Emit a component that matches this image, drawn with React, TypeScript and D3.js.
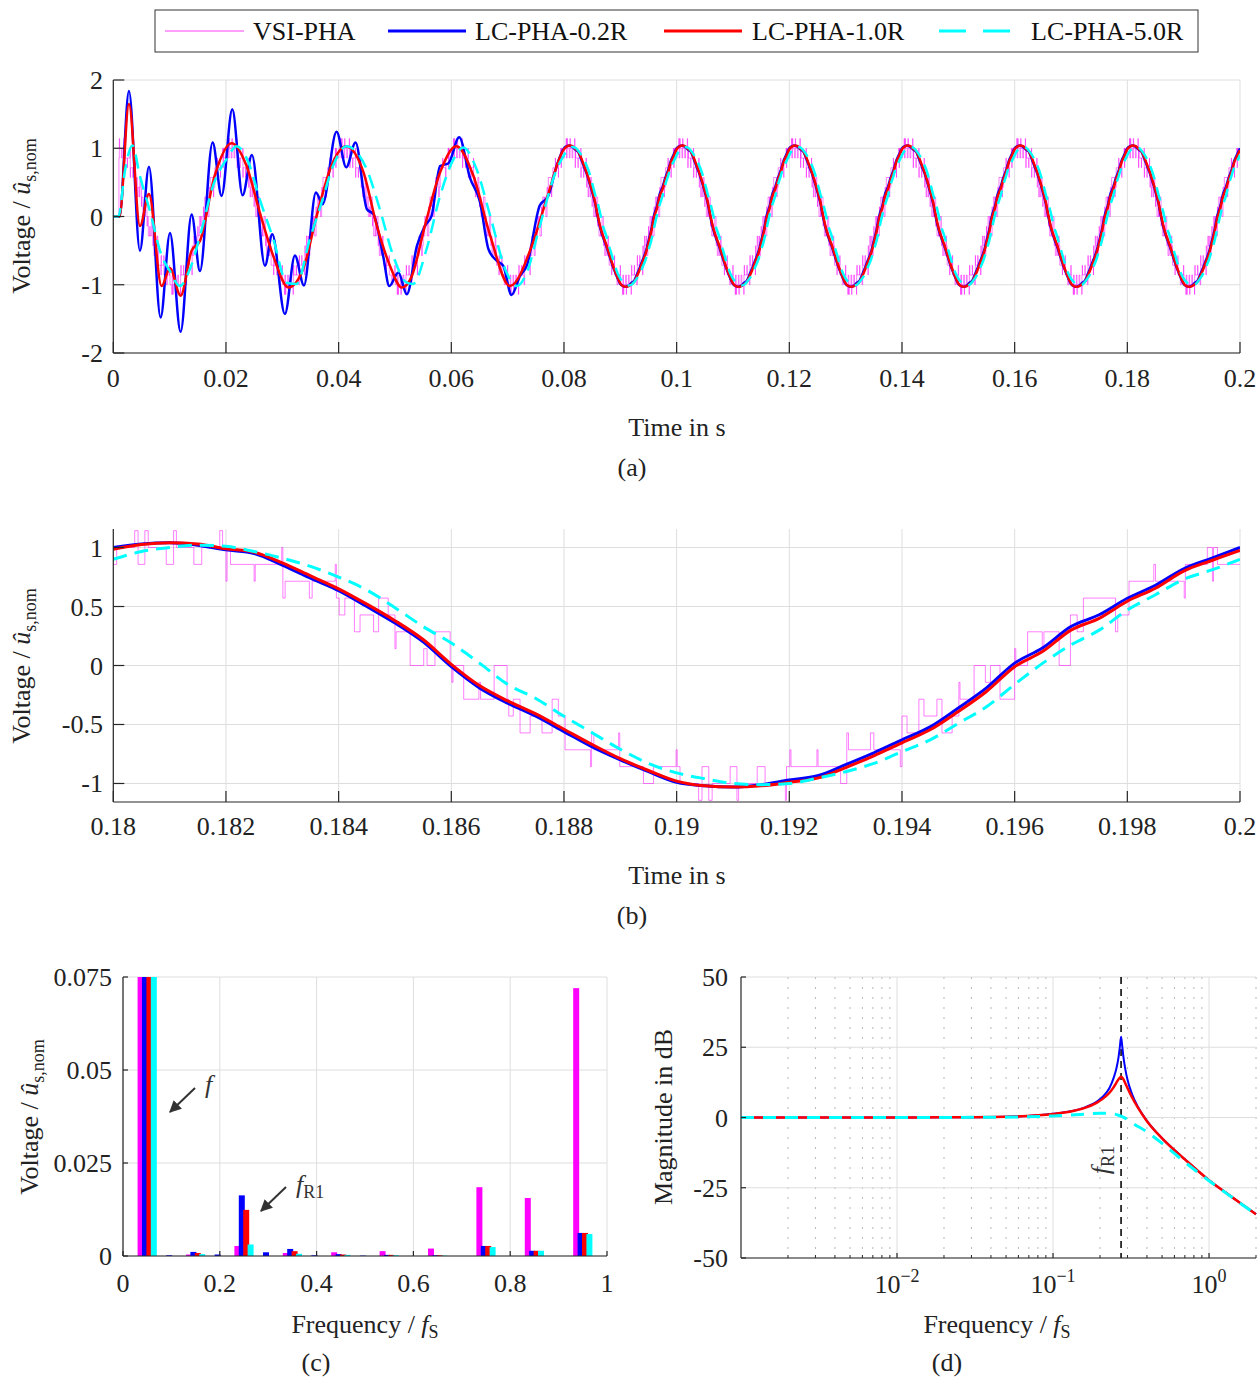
import React from 'react';
import * as d3 from 'd3';

const FONT = '"Liberation Serif", "Times New Roman", serif';
const AXC = '#262626';
const GRID = '#dedede';

const seriesNames = ['VSI-PHA', 'LC-PHA-0.2R', 'LC-PHA-1.0R', 'LC-PHA-5.0R'];
const seriesColors = ['#ff00ff', '#0000ff', '#ff0000', '#00ffff'];

// ---------- ticks ----------
const ticksAx = [0, 0.02, 0.04, 0.06, 0.08, 0.1, 0.12, 0.14, 0.16, 0.18, 0.2];
const ticksAy = [-2, -1, 0, 1, 2];
const ticksBx = [0.18, 0.182, 0.184, 0.186, 0.188, 0.19, 0.192, 0.194, 0.196, 0.198, 0.2];
const ticksBy = [-1, -0.5, 0, 0.5, 1];
const ticksCx = [0, 0.2, 0.4, 0.6, 0.8, 1];
const ticksCy = [0, 0.025, 0.05, 0.075];
const ticksDx = [0.01, 0.1, 1];
const ticksDxExp = ['\u22122', '\u22121', '0'];
const ticksDy = [-50, -25, 0, 25, 50];

// ---------- time-domain data ----------
const PERIOD = 0.02; // s, fundamental period
const SS_STEP = 0.0005; // s, sampling of steady-state period
const vsiStart = 0.001; // s, VSI output begins

// VSI-PHA staircase over one period: [ms offset in period, level in sevenths]
const vsiSteps: number[][] = [
  [0.00, 6], [0.06, 7], [0.38, 8], [0.44, 6], [0.56, 8], [0.62, 7], [0.94, 6], [1.07, 8], [1.12, 7],
  [1.43, 6], [1.57, 7], [1.89, 8], [1.94, 7], [2.00, 5], [2.02, 7], [2.08, 6], [2.50, 5], [2.52, 6],
  [2.99, 7], [3.01, 4], [3.05, 5], [3.48, 4], [3.53, 5], [3.94, 6], [3.96, 4], [4.01, 3], [4.11, 4],
  [4.28, 2], [4.38, 3], [4.62, 2], [4.71, 4], [4.88, 3], [5.00, 1], [5.02, 2], [5.27, 0], [5.51, 1],
  [5.57, 0], [5.71, 2], [5.98, 0], [6.01, -1], [6.03, 0], [6.22, -2], [6.49, -1], [6.52, -2],
  [6.76, 0], [6.99, -2], [7.02, -3], [7.10, -2], [7.22, -4], [7.40, -3], [7.61, -4], [7.79, -2],
  [7.90, -3], [8.02, -5], [8.47, -6], [8.49, -4], [8.53, -5], [8.97, -4], [8.99, -6], [9.41, -7],
  [9.59, -6], [9.99, -5], [10.01, -6], [10.06, -7], [10.39, -8], [10.45, -6], [10.57, -8], [10.63, -7],
  [10.95, -6], [11.07, -8], [11.10, -7], [11.43, -6], [11.57, -7], [11.93, -8], [11.95, -6], [12.01, -5],
  [12.03, -6], [12.49, -5], [12.51, -6], [12.91, -7], [13.02, -4], [13.05, -5], [13.44, -4], [13.50, -5],
  [13.97, -6], [14.00, -3], [14.09, -4], [14.30, -2], [14.39, -3], [14.62, -2], [14.71, -4], [14.89, -3],
  [15.01, -1], [15.03, -2], [15.28, 0], [15.48, -1], [15.57, 0], [15.74, -2], [16.00, 1], [16.02, 0],
  [16.23, 2], [16.49, 1], [16.52, 2], [16.79, 0], [16.99, 3], [17.11, 2], [17.22, 4], [17.79, 2],
  [17.83, 3], [18.03, 5], [18.47, 6], [18.50, 5], [19.01, 4], [19.03, 6], [19.42, 7], [19.51, 5],
  [19.53, 7], [19.60, 6],
];

// steady-state period (0 .. 20 ms in 0.5 ms steps)
const blueSS = [1.00, 1.03, 1.04, 1.02, 0.98, 0.95, 0.85, 0.74, 0.635, 0.50, 0.36, 0.20, -0.01, -0.19, -0.32,
  -0.43, -0.56, -0.69, -0.80, -0.90, -0.99, -1.02, -1.03, -1.01, -0.97, -0.935, -0.84, -0.74, -0.63, -0.52,
  -0.36, -0.19, 0.02, 0.15, 0.33, 0.43, 0.57, 0.68, 0.82, 0.91, 1.00];
const redSS = [0.985, 1.025, 1.04, 1.03, 0.99, 0.96, 0.87, 0.76, 0.65, 0.52, 0.38, 0.22, 0.01, -0.17, -0.30,
  -0.41, -0.54, -0.67, -0.79, -0.89, -0.98, -1.02, -1.03, -1.02, -0.99, -0.955, -0.865, -0.765, -0.655, -0.545,
  -0.39, -0.22, -0.01, 0.12, 0.30, 0.40, 0.545, 0.655, 0.80, 0.89, 0.975];
const cyanSS = [0.90, 0.966, 1.0, 1.02, 1.01, 0.966, 0.91, 0.84, 0.75, 0.64, 0.49, 0.33, 0.19, 0.02, -0.16,
  -0.28, -0.43, -0.57, -0.71, -0.83, -0.91, -0.96, -1.00, -1.01, -1.0, -0.955, -0.90, -0.83, -0.73, -0.63,
  -0.49, -0.35, -0.16, 0.02, 0.175, 0.30, 0.47, 0.60, 0.73, 0.81, 0.90];

// start-up transients: [ms, value]
const blueTr: number[][] = [
  [0, 0], [1.1, 0], [2.78, 1.84], [4.73, -0.50], [6.33, 0.73], [8.4, -1.48], [10.06, -0.24], [11.95, -1.69],
  [13.9, 0.03], [15.38, -0.80], [17.63, 1.085], [19.22, 0.30], [21.12, 1.57], [22.95, 0.31], [24.61, 0.90],
  [26.92, -0.72], [28.22, -0.26], [30.46, -1.43], [32.24, -0.57], [33.84, -1.01], [35.97, 0.35], [37.15, 0.18],
  [39.63, 1.24], [41.35, 0.72], [43.0, 1.085], [45.0, 0.11], [46.2, 0.03], [47.9, -0.58], [49.0, -1.02],
  [50.6, -0.82], [52.1, -1.14], [53.9, -0.43], [55.3, -0.14], [56.5, 0.01], [58.0, 0.74], [59.5, 0.78],
  [61.4, 1.16], [63.3, 0.57], [65.1, 0.21], [66.6, -0.48], [68.1, -0.65], [69.2, -0.72], [70.7, -1.15],
  [72.2, -0.87], [73.4, -0.72], [75.7, 0.16], [77.2, 0.30], [78.7, 0.74],
];
const redTr: number[][] = [
  [0, 0], [1.1, 0], [2.78, 1.65], [4.73, -0.14], [6.33, 0.33], [8.58, -1.02], [10.06, -0.76], [11.95, -1.16],
  [13.9, -0.50], [15.38, -0.36], [18.0, 0.60], [21.0, 1.075], [23.66, 0.74], [26.0, 0.06], [28.4, -0.58],
  [31.1, -1.04], [33.7, -0.77], [36.1, 0.01], [38.7, 0.74], [41.3, 1.03], [44.4, 0.65], [46.8, -0.14],
  [49.1, -0.72], [51.2, -1.04], [53.0, -0.87], [55.3, -0.14], [58.0, 0.645], [60.9, 1.03], [63.9, 0.60],
  [66.9, -0.28], [70.4, -1.02], [74.5, -0.38], [76.9, 0.25],
];
const cyanTr: number[][] = [
  [0, 0], [0.9, 0], [2.1, 0.69], [3.4, 1.04], [4.7, 0.60], [6.5, 0.08], [8.6, -0.58], [10.06, -0.80],
  [11.8, -1.02], [13.6, -0.77], [15.7, -0.19], [17.7, 0.45], [20.1, 0.84], [21.9, 1.03], [24.0, 0.79],
  [26.0, 0.25], [28.4, -0.33], [30.8, -0.97], [32.5, -0.99], [34.9, -0.33], [37.0, 0.21], [39.0, 0.74],
  [41.4, 1.03], [45.0, 0.69], [47.3, 0.11], [49.7, -0.58], [52.1, -0.97], [53.2, -0.99], [55.6, -0.48],
  [58.0, 0.30], [60.4, 0.84], [62.1, 1.01], [64.5, 0.69], [66.9, 0.01], [69.8, -0.82], [71.6, -1.02],
  [73.4, -0.82], [75.7, -0.14], [78.7, 0.69],
];

// ---------- spectrum (c) ----------
const harmFreq = [0.05, 0.1, 0.15, 0.2, 0.25, 0.3, 0.35, 0.4, 0.45, 0.5, 0.55, 0.6, 0.65, 0.7, 0.75, 0.8, 0.85, 0.9, 0.95];
const specVsi = [1.0, 0, 0.0004, 0, 0.0027, 0, 0.0008, 0, 0.001, 0, 0.0013, 0, 0.002, 0, 0.0185, 0, 0.0156, 0, 0.072];
const spec02 = [1.0, 0.0002, 0.0011, 0.0004, 0.0163, 0.001, 0.0019, 0.0002, 0.0005, 0.0001, 0.0003, 0, 0.0002, 0, 0.0027, 0, 0.0014, 0, 0.0062];
const spec10 = [1.0, 0, 0.0008, 0, 0.0124, 0, 0.0013, 0, 0.0004, 0, 0.0003, 0, 0.0002, 0, 0.0027, 0, 0.0014, 0, 0.0062];
const spec50 = [1.0, 0, 0.0005, 0, 0.0031, 0, 0.0006, 0, 0.0003, 0, 0.0002, 0, 0.0001, 0, 0.0024, 0, 0.0014, 0, 0.0059];

// ---------- bode (d) : [f/fS, dB] ----------
const fR1 = 0.273;
const bode02: number[][] = [
  [0.001, 0], [0.01, 0.01], [0.02, 0.05], [0.05, 0.28], [0.08, 0.8], [0.1, 1.3], [0.13, 2.2], [0.16, 3.6],
  [0.19, 5.6], [0.21, 7.6], [0.23, 10.5], [0.245, 14.2], [0.255, 17.5], [0.263, 21.5], [0.268, 25], [0.273, 28.7],
  [0.277, 26], [0.282, 22], [0.29, 17.5], [0.3, 13.5], [0.32, 8.5], [0.35, 3.8], [0.4, -1.2], [0.5, -7.4],
  [0.6, -11.6], [0.7, -14.9], [0.85, -19.0], [1.0, -22.3], [1.3, -27.0], [1.6, -30.6], [2.0, -34.4],
];
const bode10: number[][] = [
  [0.001, 0], [0.01, 0.01], [0.02, 0.05], [0.05, 0.27], [0.08, 0.78], [0.1, 1.25], [0.13, 2.1], [0.16, 3.4],
  [0.19, 5.2], [0.21, 6.8], [0.23, 8.8], [0.245, 10.8], [0.255, 12.4], [0.265, 13.9], [0.273, 14.5],
  [0.28, 14.0], [0.29, 12.3], [0.3, 10.5], [0.32, 7.3], [0.35, 3.5], [0.4, -1.3], [0.5, -7.4], [0.6, -11.6],
  [0.7, -14.9], [0.85, -19.0], [1.0, -22.3], [1.3, -27.0], [1.6, -30.6], [2.0, -34.4],
];
const bode50: number[][] = [
  [0.001, 0], [0.01, 0], [0.03, 0.05], [0.06, 0.2], [0.1, 0.55], [0.15, 1.1], [0.2, 1.5], [0.23, 1.5],
  [0.26, 0.9], [0.29, -0.2], [0.33, -2.3], [0.4, -5.1], [0.5, -9.2], [0.63, -13.8], [0.8, -18.4],
  [1.0, -22.5], [1.3, -27.1], [1.6, -30.7], [2.0, -34.5],
];

// ---------- helpers ----------
function buildSeries(tr: number[][], ss: number[], kFrom: number, kTo: number, withTr: boolean): [number, number][] {
  const pts: [number, number][] = withTr ? tr.map(([ms, v]) => [ms / 1000, v] as [number, number]) : [];
  for (let k = kFrom; k <= kTo; k++) {
    ss.forEach((v, i) => {
      if (i === ss.length - 1 && k < kTo) return;
      pts.push([k * PERIOD + i * SS_STEP, v]);
    });
  }
  return pts;
}

function vsiPoints(kFrom: number, kTo: number, tStart: number, tEnd: number): [number, number][] {
  const all: [number, number][] = [];
  for (let k = kFrom; k <= kTo; k++) for (const [ms, l] of vsiSteps) all.push([k * PERIOD + ms / 1000, l / 7]);
  const out: [number, number][] = [];
  if (tStart > kFrom * PERIOD + 1e-9) out.push([kFrom * PERIOD, 0]);
  let cur = all[0][1];
  for (const p of all) if (p[0] <= tStart + 1e-9) cur = p[1];
  out.push([tStart, cur]);
  for (const p of all) if (p[0] > tStart + 1e-9 && p[0] < tEnd) out.push(p);
  out.push([tEnd, out[out.length - 1][1]]);
  return out;
}

const FS = 26;

function Sub({ children }: { children: React.ReactNode }) {
  return <>{children}</>;
}

export default function App() {
  // scales
  const xA = d3.scaleLinear().domain([0, 0.2]).range([113.3, 1240]);
  const yA = d3.scaleLinear().domain([-2, 2]).range([353, 80]);
  const xB = d3.scaleLinear().domain([0.18, 0.2]).range([113.3, 1240]);
  const yB = d3.scaleLinear().domain([-1.157, 1.157]).range([802, 529]);
  const xC = d3.scaleLinear().domain([0, 1]).range([123, 607]);
  const yC = d3.scaleLinear().domain([0, 0.075]).range([1256, 977]);
  const xD = d3.scaleLog().domain([0.001, 2]).range([741, 1256]);
  const yD = d3.scaleLinear().domain([-50, 50]).range([1258, 977]);

  const lineA = d3.line<[number, number]>().x(d => xA(d[0])).y(d => yA(d[1])).curve(d3.curveMonotoneX);
  const stepA = d3.line<[number, number]>().x(d => xA(d[0])).y(d => yA(d[1])).curve(d3.curveStepAfter);
  const lineB = d3.line<[number, number]>().x(d => xB(d[0])).y(d => yB(d[1])).curve(d3.curveMonotoneX);
  const stepB = d3.line<[number, number]>().x(d => xB(d[0])).y(d => yB(d[1])).curve(d3.curveStepAfter);
  const lineD = d3.line<number[]>().x(d => xD(d[0])).y(d => yD(d[1])).curve(d3.curveMonotoneX);

  const vsiA = vsiPoints(0, 9, vsiStart, 0.2);
  const vsiB = vsiPoints(9, 9, 0.18, 0.2);
  const blueA = buildSeries(blueTr, blueSS, 4, 9, true);
  const redA = buildSeries(redTr, redSS, 4, 9, true);
  const cyanA = buildSeries(cyanTr, cyanSS, 4, 9, true);
  const blueB = buildSeries(blueTr, blueSS, 9, 9, false);
  const redB = buildSeries(redTr, redSS, 9, 9, false);
  const cyanB = buildSeries(cyanTr, cyanSS, 9, 9, false);

  const specs = [specVsi, spec02, spec10, spec50];
  const barOffset = 0.0091;
  const barW = 6;

  const minorD: number[] = [];
  [0.001, 0.01, 0.1, 1].forEach(dec => {
    for (let m = 2; m <= 9; m++) if (dec * m <= 2.0001) minorD.push(dec * m);
  });

  const fmt = (v: number) => String(v);

  const gridX = (xs: number[], sx: any, y0: number, y1: number) =>
    xs.map((v, i) => <line key={'gx' + i} x1={sx(v)} x2={sx(v)} y1={y0} y2={y1} stroke={GRID} strokeWidth={1} />);
  const gridY = (ys: number[], sy: any, x0: number, x1: number) =>
    ys.map((v, i) => <line key={'gy' + i} x1={x0} x2={x1} y1={sy(v)} y2={sy(v)} stroke={GRID} strokeWidth={1} />);

  const axesFrame = (sx: any, sy: any, xs: number[], ys: number[], tl: number, xLabBase: number, yLabRight: number,
    xLabels: React.ReactNode[] | null, yLabels: string[]) => {
    const [x0, x1] = sx.range();
    const [yb, yt] = sy.range();
    return (
      <g>
        <line x1={x0} x2={x1} y1={yb} y2={yb} stroke={AXC} strokeWidth={1.2} />
        <line x1={x0} x2={x0} y1={yb} y2={yt} stroke={AXC} strokeWidth={1.2} />
        {xs.map((v, i) => <line key={'tx' + i} x1={sx(v)} x2={sx(v)} y1={yb} y2={yb - tl} stroke={AXC} strokeWidth={1.2} />)}
        {ys.map((v, i) => <line key={'ty' + i} x1={x0} x2={x0 + tl} y1={sy(v)} y2={sy(v)} stroke={AXC} strokeWidth={1.2} />)}
        {xs.map((v, i) => (
          <text key={'lx' + i} x={sx(v)} y={xLabBase} textAnchor="middle" fontSize={FS} fill="#222">
            {xLabels ? xLabels[i] : fmt(v)}
          </text>
        ))}
        {ys.map((v, i) => (
          <text key={'ly' + i} x={yLabRight} y={sy(v) + 9} textAnchor="end" fontSize={FS} fill="#222">{yLabels[i]}</text>
        ))}
      </g>
    );
  };

  const voltLabel = (cx: number, cy: number) => (
    <text transform={`translate(${cx},${cy}) rotate(-90)`} textAnchor="middle" fontSize={FS} fill="#222">
      Voltage / <tspan fontStyle="italic">{'\u00fb'}</tspan><tspan fontSize={18} dy={6}>s,nom</tspan>
    </text>
  );
  const freqLabel = (cx: number, by: number) => (
    <text x={cx} y={by} textAnchor="middle" fontSize={FS} fill="#222">
      Frequency / <tspan fontStyle="italic">f</tspan><tspan fontSize={18} dy={5}>S</tspan>
    </text>
  );

  const legendItems = [
    { lx1: 165, lx2: 244, tx: 253, color: seriesColors[0], w: 1.5, op: 0.5, dash: undefined as string | undefined },
    { lx1: 388, lx2: 466, tx: 475, color: seriesColors[1], w: 3, op: 1, dash: undefined },
    { lx1: 664, lx2: 742, tx: 752, color: seriesColors[2], w: 3, op: 1, dash: undefined },
    { lx1: 939, lx2: 1010, tx: 1031, color: seriesColors[3], w: 3, op: 1, dash: '27,17' },
  ];

  return (
    <svg width={1260} height={1378} style={{ position: 'absolute', left: 0, top: 0, background: '#fff' }}
      fontFamily={FONT}>
      <defs>
        <clipPath id="clipA"><rect x={113.3} y={80} width={1240 - 113.3} height={273} /></clipPath>
        <clipPath id="clipB"><rect x={113.3} y={529} width={1240 - 113.3} height={273} /></clipPath>
        <clipPath id="clipC"><rect x={123} y={977} width={490} height={279} /></clipPath>
        <clipPath id="clipD"><rect x={741} y={977} width={517} height={281} /></clipPath>
        <marker id="ah" viewBox="0 0 10 10" refX="9" refY="5" markerWidth="6" markerHeight="6" orient="auto">
          <path d="M0,0 L10,5 L0,10 z" fill="#333" />
        </marker>
      </defs>
      <rect x={0} y={0} width={1260} height={1378} fill="#fff" />

      {/* Legend */}
      <rect x={155} y={10} width={1043} height={42} fill="#fff" stroke="#333" strokeWidth={1} />
      {legendItems.map((it, i) => (
        <g key={'leg' + i}>
          <line x1={it.lx1} x2={it.lx2} y1={31} y2={31} stroke={it.color} strokeWidth={it.w} strokeOpacity={it.op}
            strokeDasharray={it.dash} />
          <text x={it.tx} y={40} fontSize={FS} fill="#111">{seriesNames[i]}</text>
        </g>
      ))}

      {/* ---------- Panel (a) ---------- */}
      {gridX(ticksAx, xA, 80, 353)}
      {gridY(ticksAy, yA, 113.3, 1240)}
      <g clipPath="url(#clipA)" fill="none">
        <path d={stepA(vsiA) || ''} stroke={seriesColors[0]} strokeOpacity={0.5} strokeWidth={1} />
        <path d={lineA(blueA) || ''} stroke={seriesColors[1]} strokeWidth={2.5} />
        <path d={lineA(redA) || ''} stroke={seriesColors[2]} strokeWidth={2.5} />
        <path d={lineA(cyanA) || ''} stroke={seriesColors[3]} strokeWidth={2.5} strokeDasharray="14,8" />
      </g>
      {axesFrame(xA, yA, ticksAx, ticksAy, 11, 387, 103, null, ticksAy.map(fmt))}
      {voltLabel(30, 216)}
      <text x={677} y={436} textAnchor="middle" fontSize={FS} fill="#222">Time in s</text>
      <text x={632} y={476} textAnchor="middle" fontSize={FS} fill="#222">(a)</text>

      {/* ---------- Panel (b) ---------- */}
      {gridX(ticksBx, xB, 529, 802)}
      {gridY(ticksBy, yB, 113.3, 1240)}
      <g clipPath="url(#clipB)" fill="none">
        <path d={stepB(vsiB) || ''} stroke={seriesColors[0]} strokeOpacity={0.5} strokeWidth={1} />
        <path d={lineB(blueB) || ''} stroke={seriesColors[1]} strokeWidth={3} />
        <path d={lineB(redB) || ''} stroke={seriesColors[2]} strokeWidth={3} />
        <path d={lineB(cyanB) || ''} stroke={seriesColors[3]} strokeWidth={3} strokeDasharray="14,8" />
      </g>
      {axesFrame(xB, yB, ticksBx, ticksBy, 11, 835, 103, null, ticksBy.map(fmt))}
      {voltLabel(30, 666)}
      <text x={677} y={884} textAnchor="middle" fontSize={FS} fill="#222">Time in s</text>
      <text x={632} y={924} textAnchor="middle" fontSize={FS} fill="#222">(b)</text>

      {/* ---------- Panel (c) ---------- */}
      {gridX(ticksCx, xC, 977, 1256)}
      {gridY(ticksCy, yC, 123, 607)}
      <g clipPath="url(#clipC)">
        {harmFreq.map((f, i) => specs.map((s, j) => {
          const v = s[i];
          if (!v) return null;
          const cx = xC(f + (j - 1.5) * barOffset);
          const yTop = yC(Math.min(v, 0.08));
          return <rect key={`b${i}_${j}`} x={cx - barW / 2} y={yTop} width={barW} height={1256 - yTop}
            fill={seriesColors[j]} />;
        }))}
      </g>
      {axesFrame(xC, yC, ticksCx, ticksCy, 5, 1292, 112, null, ticksCy.map(fmt))}
      <line x1={195} y1={1088} x2={170} y2={1112} stroke="#333" strokeWidth={2} markerEnd="url(#ah)" />
      <text x={205} y={1093} fontSize={FS} fontStyle="italic" fill="#333">f</text>
      <line x1={286} y1={1187} x2={261} y2={1211} stroke="#333" strokeWidth={2} markerEnd="url(#ah)" />
      <text x={296} y={1193} fontSize={FS} fill="#333">
        <tspan fontStyle="italic">f</tspan><tspan fontSize={18} dy={5}>R1</tspan>
      </text>
      {voltLabel(38, 1117)}
      {freqLabel(365, 1333)}
      <text x={316} y={1371} textAnchor="middle" fontSize={FS} fill="#222">(c)</text>

      {/* ---------- Panel (d) ---------- */}
      {minorD.map((v, i) => (
        <line key={'md' + i} x1={xD(v)} x2={xD(v)} y1={977} y2={1258} stroke="#b8b8b8" strokeWidth={1}
          strokeDasharray="2,8" />
      ))}
      {gridX(ticksDx, xD, 977, 1258)}
      {gridY(ticksDy, yD, 741, 1256)}
      <line x1={xD(fR1)} x2={xD(fR1)} y1={977} y2={1258} stroke="#262626" strokeWidth={1.8} strokeDasharray="7,5" />
      <g clipPath="url(#clipD)" fill="none">
        <path d={lineD(bode02) || ''} stroke={seriesColors[1]} strokeWidth={2} />
        <path d={lineD(bode10) || ''} stroke={seriesColors[2]} strokeWidth={2.5} />
        <path d={lineD(bode50) || ''} stroke={seriesColors[3]} strokeWidth={3} strokeDasharray="13,9" />
      </g>
      {axesFrame(xD, yD, ticksDx, ticksDy, 5, 1293, 728,
        ticksDx.map((v, i) => (
          <Sub key={'dx' + i}>
            <tspan>10</tspan><tspan fontSize={18} dy={-11}>{ticksDxExp[i]}</tspan>
          </Sub>
        )), ticksDy.map(fmt))}
      {minorD.map((v, i) => (
        <line key={'mt' + i} x1={xD(v)} x2={xD(v)} y1={1258} y2={1255} stroke={AXC} strokeWidth={1} />
      ))}
      <text transform={`translate(${xD(fR1) - 12},1160) rotate(-90)`} textAnchor="middle" fontSize={FS} fill="#333">
        <tspan fontStyle="italic">f</tspan><tspan fontSize={18} dy={5}>R1</tspan>
      </text>
      <text transform="translate(672,1117) rotate(-90)" textAnchor="middle" fontSize={FS} fill="#222">Magnitude in dB</text>
      {freqLabel(997, 1333)}
      <text x={947} y={1371} textAnchor="middle" fontSize={FS} fill="#222">(d)</text>
    </svg>
  );
}
